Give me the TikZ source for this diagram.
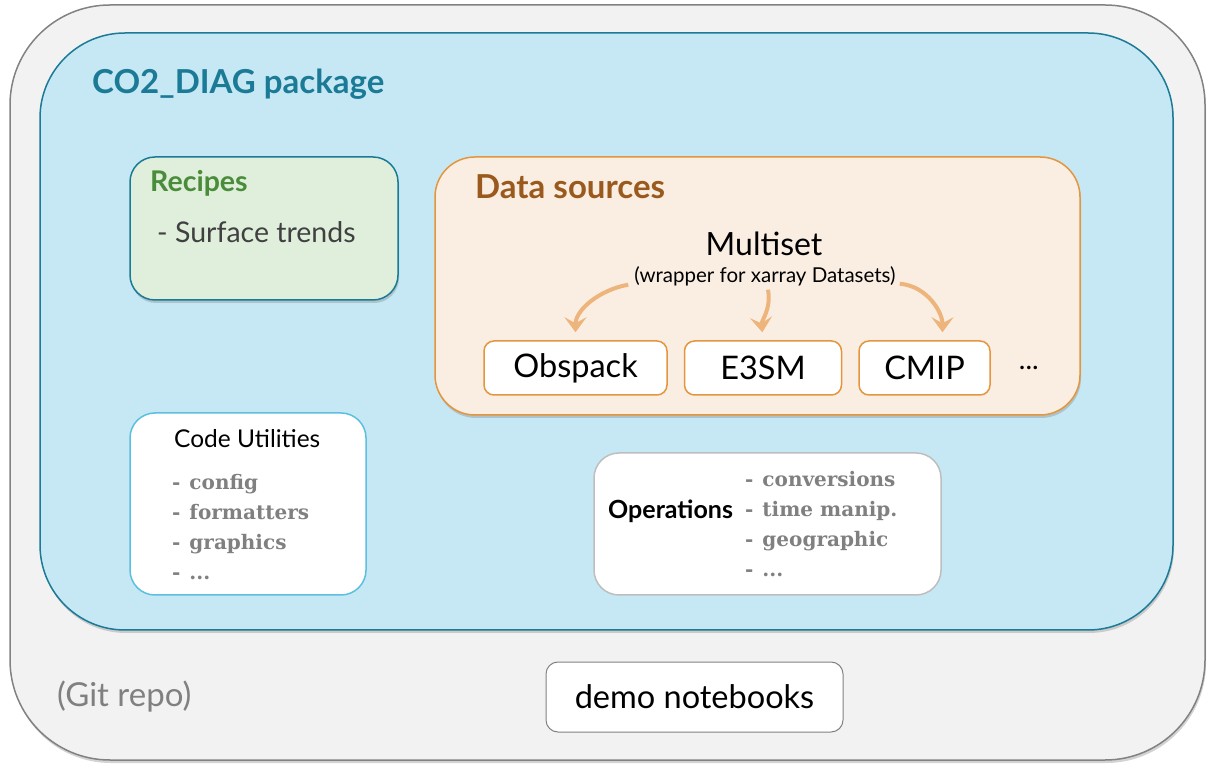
\documentclass[tikz,border=0pt]{standalone}
\usepackage{fontspec}
\setmainfont{Lato}
\newfontfamily\slabfont{DejaVu Serif}
\usetikzlibrary{positioning,shadows,arrows.meta}
\definecolor{repofill}{RGB}{242, 242, 242}
\definecolor{repoline}{RGB}{130, 130, 130}
\definecolor{pkgfill}{RGB}{197, 232, 244}
\definecolor{pkgline}{RGB}{27, 122, 149}
\definecolor{recfill}{RGB}{223, 239, 220}
\definecolor{recgreen}{RGB}{74, 140, 58}
\definecolor{srcfill}{RGB}{250, 238, 226}
\definecolor{srcline}{RGB}{228, 150, 62}
\definecolor{srcbrown}{RGB}{154, 90, 30}
\definecolor{feedcol}{RGB}{237, 180, 124}
\definecolor{utilline}{RGB}{91, 192, 224}
\definecolor{opsline}{RGB}{190, 190, 190}
\definecolor{itemgray}{RGB}{128, 128, 128}
\definecolor{textdark}{RGB}{64, 64, 64}
\tikzset{
  shade/.style = {drop shadow={shadow xshift=1pt, shadow yshift=-3pt, opacity=0.35}},
  repo/.style = {draw=repoline, fill=repofill, line width=1.5pt, rounded corners=100pt, shade, inner sep=0},
  pkg/.style = {draw=pkgline, fill=pkgfill, line width=1.5pt, rounded corners=85pt, shade, inner sep=0},
  recbox/.style = {draw=pkgline, fill=recfill, line width=1.5pt, rounded corners=25pt, shade, inner sep=0},
  srcbox/.style = {draw=srcline, fill=srcfill, line width=1.5pt, rounded corners=40pt, shade, inner sep=0},
  dataset/.style = {draw=srcline, fill=white, line width=1.5pt, rounded corners=10pt, minimum height=54pt, font=\fontsize{32.5}{38}\selectfont},
  utilbox/.style = {draw=utilline, fill=white, line width=1.5pt, rounded corners=25pt, inner sep=0},
  opsbox/.style = {draw=opsline, fill=white, line width=1.5pt, rounded corners=25pt, inner sep=0},
  demobox/.style = {draw=repoline, fill=white, line width=1pt, rounded corners=12pt, inner sep=0},
  label/.style = {inner sep=0, anchor=base west},
  item/.style = {inner sep=0, anchor=base west, text=itemgray, font=\slabfont\bfseries\fontsize{20}{24}\selectfont},
  feed/.style = {draw=feedcol, line width=4pt, -{Stealth[length=15pt, width=22pt, inset=6pt]}, shorten >=8pt},
}
\newcommand{\dashitem}[1]{-\hspace{0.45em}#1}
\begin{document}
\begin{tikzpicture}[x=1pt, y=1pt]
\useasboundingbox (0,0) rectangle (1214,768);

% containers =============================
\node[repo, minimum width=1195pt, minimum height=755pt] (repo) at (607.5,385.5) {};
\node[pkg, minimum width=1133pt, minimum height=597pt] (pkg) at (606.5,436.5) {};
\node[label, text=pkgline, font=\bfseries\fontsize{33}{40}\selectfont] (pkgname) at (92,674) {CO2\_DIAG package};

% recipes
\node[recbox, minimum width=268pt, minimum height=143pt] (recipes) at (264,539.5) {};
\node[label, text=recgreen, font=\bfseries\fontsize{28.5}{34}\selectfont] (rectitle) at (150,576) {Recipes};
\node[label, text=textdark, font=\fontsize{28.5}{34}\selectfont] (recitem) at (157,525) {- Surface trends};

% data sources
\node[srcbox, minimum width=645pt, minimum height=258pt] (sources) at (757.5,482) {};
\node[label, text=srcbrown, font=\bfseries\fontsize{33}{40}\selectfont] (srctitle) at (475,569) {Data sources};
\node[inner sep=0, anchor=base, font=\fontsize{32}{38}\selectfont] (multi) at (764,512) {Multiset};
\node[inner sep=0, anchor=base, font=\fontsize{20.5}{24}\selectfont] (wrap) at (765,485) {(wrapper for xarray Datasets)};
\node[dataset, minimum width=183pt] (obs) at (575.5,400) {Obspack};
\node[dataset, minimum width=157pt, right=16pt of obs] (e3sm) {E3SM};
\node[dataset, minimum width=131pt, right=16pt of e3sm] (cmip) {CMIP};
\node[inner sep=0, font=\fontsize{28}{32}\selectfont, right=28pt of cmip] (more) {...};

% edges
\draw[feed] ([xshift=-6pt, yshift=2pt]wrap.south west) to[out=190, in=90] (obs.north);
\draw[feed] ([xshift=3pt, yshift=-3pt]wrap.south) to[out=-80, in=95] (e3sm.north);
\draw[feed] ([xshift=4pt, yshift=3pt]wrap.south east) to[out=-5, in=90] ([xshift=18pt]cmip.north);

% utilities
\node[utilbox, minimum width=236pt, minimum height=182pt] (utils) at (248,264) {};
\node[label, font=\fontsize{24.5}{29}\selectfont] (utiltitle) at (174,320) {Code Utilities};
\node[item] (u1) at (172,278) {\dashitem{config}};
\node[item] (u2) at (172,248) {\dashitem{formatters}};
\node[item] (u3) at (172,218) {\dashitem{graphics}};
\node[item] (u4) at (172,188) {\dashitem{...}};

% operations
\node[opsbox, minimum width=347pt, minimum height=142pt] (ops) at (767.5,244) {};
\node[inner sep=0, anchor=west, font=\bfseries\fontsize{25}{30}\selectfont] (optitle) at (608,257) {Operations};
\node[item] (o1) at (745,281) {\dashitem{conversions}};
\node[item] (o2) at (745,251) {\dashitem{time manip.}};
\node[item] (o3) at (745,221) {\dashitem{geographic}};
\node[item] (o4) at (745,191) {\dashitem{...}};

% repo level
\node[demobox, minimum width=297pt, minimum height=70pt, font=\fontsize{32.5}{38}\selectfont] (demo) at (694.5,71) {demo notebooks};
\node[inner sep=0, anchor=west, text=itemgray, font=\fontsize{33}{40}\selectfont] (gitlabel) at (57,71) {(Git repo)};

\end{tikzpicture}
\end{document}
